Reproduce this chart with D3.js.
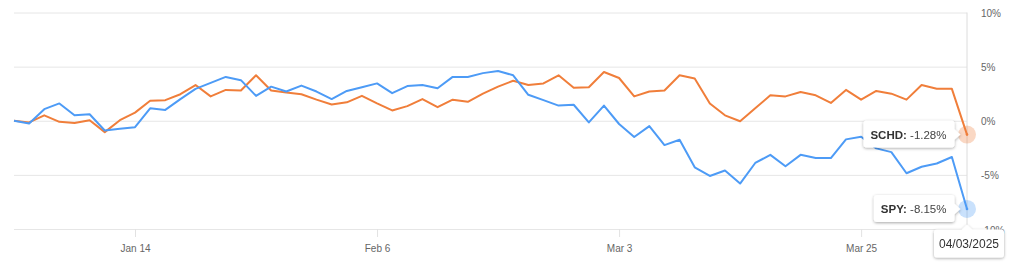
<!DOCTYPE html>
<html>
<head>
<meta charset="utf-8">
<script src="https://cdn.jsdelivr.net/npm/d3@7"></script>
<style>
  body { margin: 0; background: #fff; }
  text { font-family: "Liberation Sans", Helvetica, Arial, sans-serif; }
</style>
</head>
<body>
<div id="chart"></div>
<script>
// trading days, 31 Dec 2024 - 3 Apr 2025
var dates = [
  "2024-12-31",
  "2025-01-02", "2025-01-03", "2025-01-06", "2025-01-07", "2025-01-08", "2025-01-10", "2025-01-13",
  "2025-01-14", "2025-01-15", "2025-01-16", "2025-01-17", "2025-01-21", "2025-01-22", "2025-01-23",
  "2025-01-24", "2025-01-27", "2025-01-28", "2025-01-29", "2025-01-30", "2025-01-31",
  "2025-02-03", "2025-02-04", "2025-02-05", "2025-02-06", "2025-02-07", "2025-02-10", "2025-02-11",
  "2025-02-12", "2025-02-13", "2025-02-14", "2025-02-18", "2025-02-19", "2025-02-20", "2025-02-21",
  "2025-02-24", "2025-02-25", "2025-02-26", "2025-02-27", "2025-02-28",
  "2025-03-03", "2025-03-04", "2025-03-05", "2025-03-06", "2025-03-07", "2025-03-10", "2025-03-11",
  "2025-03-12", "2025-03-13", "2025-03-14", "2025-03-17", "2025-03-18", "2025-03-19", "2025-03-20",
  "2025-03-21", "2025-03-24", "2025-03-25", "2025-03-26", "2025-03-27", "2025-03-28", "2025-03-31",
  "2025-04-01", "2025-04-02", "2025-04-03"
];

// % change since start
var spy = [
  0, -0.25, 1.07, 1.6, 0.5, 0.6, -0.9, -0.75, -0.6, 1.15,
  1.0, 2.0, 2.95, 3.5, 4.05, 3.75, 2.3, 3.15, 2.7, 3.25,
  2.7, 2.0, 2.75, 3.1, 3.45, 2.55, 3.2, 3.3, 3.0, 4.05,
  4.05, 4.4, 4.6, 4.2, 2.4, 1.9, 1.4, 1.48, -0.15, 1.4,
  -0.3, -1.5, -0.5, -2.25, -1.75, -4.3, -5.1, -4.6, -5.8, -3.9,
  -3.15, -4.2, -3.15, -3.45, -3.45, -1.72, -1.48, -2.55, -2.9, -4.85,
  -4.25, -3.95, -3.35, -8.15
];
var schd = [
  0, -0.15, 0.5, -0.1, -0.2, 0.05, -1.05, 0.05, 0.75, 1.85,
  1.9, 2.45, 3.3, 2.25, 2.85, 2.8, 4.2, 2.8, 2.6, 2.45,
  1.95, 1.5, 1.7, 2.3, 1.6, 0.95, 1.35, 2.0, 1.25, 1.95,
  1.75, 2.5, 3.15, 3.7, 3.3, 3.45, 4.2, 3.05, 3.1, 4.5,
  3.95, 2.25, 2.7, 2.8, 4.2, 3.9, 1.6, 0.5, -0.05, 1.15,
  2.35, 2.25, 2.65, 2.35, 1.65, 2.85, 1.95, 2.75, 2.5, 1.95,
  3.3, 2.95, 2.95, -1.28
];

var tickDates = ["2025-01-14", "2025-02-06", "2025-03-03", "2025-03-25"];
var tickLabels = ["Jan 14", "Feb 6", "Mar 3", "Mar 25"];
var yTicks = [-10, -5, 0, 5, 10];
var hoverLabel = "04/03/2025";

var spyColor = "#4d9bf6";
var schdColor = "#f07e3a";

var svgWidth = 1024;
var svgHeight = 271;
var margin = {top: 12.5, right: 57, bottom: 42, left: 14};
var chartWidth = svgWidth - margin.left - margin.right;
var chartHeight = svgHeight - margin.top - margin.bottom;

var svg = d3.select("#chart").append("svg")
  .attr("width", svgWidth)
  .attr("height", svgHeight);

var defs = svg.append("defs");
defs.append("filter")
  .attr("id", "shadow")
  .attr("x", "-20%").attr("y", "-40%")
  .attr("width", "140%").attr("height", "180%")
  .append("feDropShadow")
  .attr("dx", 0).attr("dy", 1)
  .attr("stdDeviation", 1.6)
  .attr("flood-color", "#000")
  .attr("flood-opacity", 0.35);

var chartGroup = svg.append("g")
  .attr("transform", `translate(${margin.left}, ${margin.top})`);

var x = d3.scalePoint().domain(dates).range([0, chartWidth]);
var y = d3.scaleLinear().domain([-10, 10]).range([chartHeight, 0]);

// gridlines + right labels
var yAxis = chartGroup.append("g")
  .attr("transform", `translate(${chartWidth}, 0)`)
  .call(d3.axisRight(y)
    .tickValues(yTicks)
    .tickSize(-chartWidth)
    .tickPadding(14)
    .tickFormat(d => d + "%"));
yAxis.select(".domain").remove();
yAxis.selectAll("line").attr("stroke", "#e6e6e6");
yAxis.selectAll("text")
  .attr("fill", "#666")
  .attr("font-size", "10px")
  .attr("dy", "0.4em");

var xAxis = chartGroup.append("g")
  .attr("transform", `translate(0, ${chartHeight})`)
  .call(d3.axisBottom(x)
    .tickValues(tickDates)
    .tickSize(8)
    .tickPadding(8)
    .tickFormat((d, i) => tickLabels[i]));
xAxis.select(".domain").remove();
xAxis.selectAll("line").attr("stroke", "#e2e2e2");
xAxis.selectAll("text")
  .attr("fill", "#666")
  .attr("font-size", "10px");

// hover line on the last day
var lastDate = dates[dates.length - 1];
var px = x(lastDate);
chartGroup.append("line")
  .attr("x1", px).attr("x2", px)
  .attr("y1", 0).attr("y2", chartHeight + 8)
  .attr("stroke", "#dcdcdc");

var line = d3.line()
  .x((d, i) => x(dates[i]))
  .y(d => y(d));

chartGroup.append("path")
  .datum(schd)
  .attr("fill", "none")
  .attr("stroke", schdColor)
  .attr("stroke-width", 2)
  .attr("stroke-linejoin", "round")
  .attr("d", line);

chartGroup.append("path")
  .datum(spy)
  .attr("fill", "none")
  .attr("stroke", spyColor)
  .attr("stroke-width", 2)
  .attr("stroke-linejoin", "round")
  .attr("d", line);

var series = [
  {name: "SCHD", values: schd, color: schdColor},
  {name: "SPY", values: spy, color: spyColor}
];

series.forEach(function(s) {
  var v = s.values[s.values.length - 1];
  var cy = y(v);

  chartGroup.append("circle")
    .attr("cx", px).attr("cy", cy).attr("r", 9)
    .attr("fill", s.color).attr("fill-opacity", 0.3);
  chartGroup.append("circle")
    .attr("cx", px).attr("cy", cy).attr("r", 1.3)
    .attr("fill", s.color);

  // tooltip to the left of the point
  var tip = chartGroup.append("g").attr("filter", "url(#shadow)");
  var bg = tip.append("g");
  var label = tip.append("text")
    .attr("font-size", "11.5px")
    .attr("fill", "#444");
  label.append("tspan").attr("font-weight", "bold").attr("fill", "#333").text(s.name + ":");
  label.append("tspan").text(" " + v.toFixed(2) + "%");

  var textW = label.node().getComputedTextLength();
  var boxR = px - 12.5;
  var boxW = textW + 15;
  var boxH = 27;
  var boxTop = cy - boxH / 2 - 0.5;

  bg.append("rect")
    .attr("x", boxR - boxW).attr("y", boxTop)
    .attr("width", boxW).attr("height", boxH)
    .attr("rx", 3)
    .attr("fill", "#fff");
  bg.append("path")
    .attr("d", `M${boxR - 1},${cy - 6} L${boxR + 6},${cy} L${boxR - 1},${cy + 6} Z`)
    .attr("fill", "#fff");

  label.attr("x", boxR - boxW + 7).attr("y", cy + 4);
});

// date tooltip below the hover line
var dateTip = chartGroup.append("g").attr("filter", "url(#shadow)");
var dTop = chartHeight + 0.5;
var dW = 70;
var dH = 28;
var dLeft = px - 33;
dateTip.append("rect")
  .attr("x", dLeft).attr("y", dTop)
  .attr("width", dW).attr("height", dH)
  .attr("rx", 3)
  .attr("fill", "#fff");
dateTip.append("path")
  .attr("d", `M${px - 6},${dTop + 1} L${px},${dTop - 5} L${px + 6},${dTop + 1} Z`)
  .attr("fill", "#fff");
dateTip.append("text")
  .attr("x", dLeft + dW / 2)
  .attr("y", dTop + 18)
  .attr("text-anchor", "middle")
  .attr("font-size", "12px")
  .attr("fill", "#333")
  .text(hoverLabel);
</script>
</body>
</html>
